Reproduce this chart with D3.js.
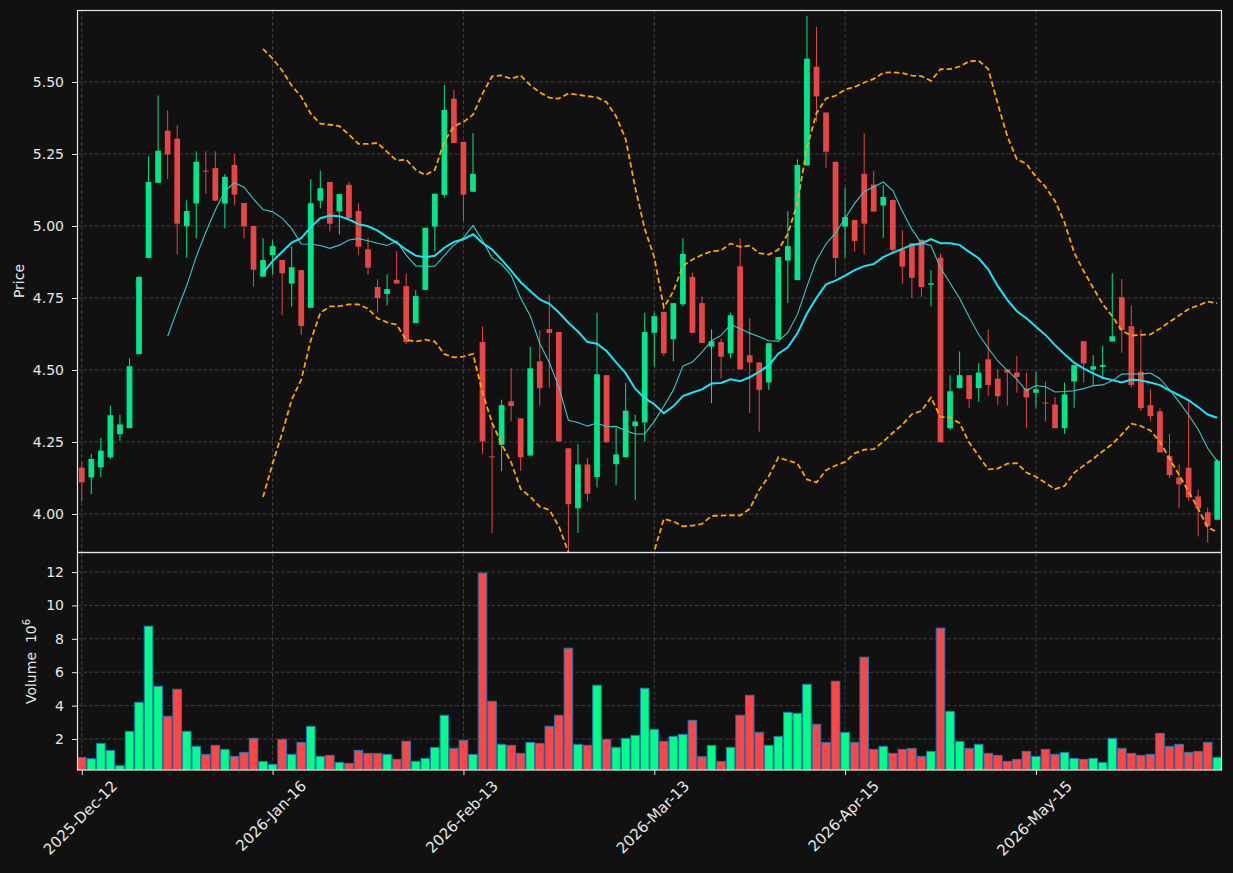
<!DOCTYPE html>
<html>
<head>
<meta charset="utf-8">
<script src="https://cdn.jsdelivr.net/npm/d3@7"></script>
<style>
  body { margin: 0; background: #111111; }
  text { font-family: "DejaVu Sans", sans-serif; }
</style>
</head>
<body>
<svg id="chart" width="1233" height="873"></svg>
<script>
// tick labels on the date axis (every 20th trading row)
const tickIdx = [0, 20, 40, 60, 80, 100]
const tickLabels = ['2025-Dec-12', '2026-Jan-16', '2026-Feb-13', '2026-Mar-13', '2026-Apr-15', '2026-May-15']

const opens = [4.161,4.127,4.162,4.197,4.277,4.298,4.555,4.889,5.150,5.331,
  5.303,4.999,5.078,5.192,5.201,5.078,5.212,5.080,5.000,4.824,
  4.899,4.882,4.800,4.847,4.716,5.088,5.153,5.050,5.143,5.052,
  4.919,4.788,4.764,4.813,4.791,4.663,4.778,4.998,5.108,5.442,
  5.292,5.119,4.597,4.200,4.240,4.391,4.332,4.203,4.530,4.642,
  4.632,4.228,4.020,4.172,4.128,4.482,4.173,4.197,4.305,4.318,
  4.629,4.702,4.607,4.728,4.823,4.732,4.581,4.597,4.558,4.860,
  4.551,4.526,4.457,4.606,4.880,4.812,5.210,5.553,5.394,5.223,
  4.998,5.021,5.181,5.144,5.071,5.090,4.917,4.940,4.952,4.796,
  4.890,4.298,4.437,4.482,4.437,4.537,4.470,4.502,4.491,4.436,
  4.421,4.387,4.380,4.298,4.460,4.600,4.501,4.511,4.599,4.753,
  4.652,4.494,4.378,4.356,4.201,4.126,4.161,4.061,4.006,3.980]
const highs = [4.182,4.208,4.264,4.376,4.345,4.540,4.826,5.242,5.453,5.402,
  5.350,5.089,5.259,5.259,5.259,5.180,5.250,5.080,5.000,4.957,
  4.950,4.882,4.929,4.847,5.163,5.192,5.153,5.111,5.153,5.079,
  4.959,4.815,4.832,4.913,4.835,4.777,4.994,5.112,5.490,5.472,
  5.292,5.322,4.651,4.322,4.397,4.506,4.332,4.581,4.638,4.760,
  4.632,4.228,4.242,4.194,4.699,4.482,4.300,4.455,4.345,4.699,
  4.699,4.702,4.732,4.958,4.838,4.755,4.641,4.609,4.699,4.958,
  4.680,4.526,4.593,4.892,5.052,5.231,5.730,5.691,5.394,5.223,
  5.132,5.021,5.322,5.192,5.141,5.090,4.986,4.940,4.952,4.847,
  4.904,4.482,4.564,4.482,4.524,4.641,4.502,4.502,4.548,4.491,
  4.494,4.460,4.405,4.457,4.517,4.600,4.551,4.584,4.835,4.816,
  4.724,4.641,4.433,4.367,4.278,4.172,4.391,4.085,4.022,4.191]
const lows = [4.044,4.068,4.128,4.191,4.254,4.298,4.555,4.889,5.150,5.163,
  4.901,4.890,4.957,5.111,5.088,4.992,5.072,4.957,4.790,4.824,
  4.832,4.690,4.720,4.621,4.716,5.061,4.981,4.971,5.028,4.901,
  4.832,4.699,4.724,4.800,4.590,4.663,4.778,4.913,5.098,5.288,
  5.017,5.119,4.208,3.934,4.149,4.322,4.149,4.200,4.376,4.439,
  4.252,3.871,3.934,4.044,4.092,4.249,4.101,4.197,4.049,4.252,
  4.512,4.548,4.530,4.721,4.629,4.594,4.385,4.470,4.540,4.502,
  4.351,4.286,4.431,4.606,4.732,4.812,5.210,5.362,5.200,4.824,
  4.890,4.911,4.901,5.050,4.959,4.901,4.800,4.750,4.754,4.721,
  4.249,4.291,4.437,4.369,4.390,4.411,4.379,4.376,4.421,4.300,
  4.369,4.321,4.298,4.278,4.369,4.457,4.449,4.470,4.599,4.560,
  4.439,4.358,4.321,4.214,4.125,4.022,4.046,3.922,3.901,3.980]
const closes = [4.110,4.191,4.220,4.343,4.311,4.513,4.823,5.153,5.261,5.248,
  5.008,5.052,5.223,5.189,5.088,5.171,5.109,4.999,4.848,4.882,
  4.930,4.836,4.857,4.653,5.079,5.131,5.008,5.111,5.028,4.928,
  4.855,4.750,4.781,4.800,4.597,4.757,4.994,5.112,5.403,5.288,
  5.109,5.181,4.252,4.197,4.378,4.375,4.197,4.506,4.437,4.629,
  4.252,4.034,4.172,4.070,4.485,4.249,4.207,4.359,4.321,4.632,
  4.687,4.558,4.732,4.903,4.629,4.594,4.600,4.546,4.690,4.502,
  4.526,4.431,4.593,4.892,4.930,5.212,5.581,5.450,5.258,4.889,
  5.031,4.948,5.008,5.050,5.101,4.917,4.859,4.820,4.788,4.801,
  4.249,4.426,4.482,4.399,4.491,4.448,4.409,4.491,4.476,4.405,
  4.433,4.385,4.298,4.415,4.517,4.523,4.513,4.517,4.617,4.639,
  4.448,4.368,4.340,4.214,4.135,4.103,4.058,4.020,3.958,4.185]
// volume in millions
const volumes = [0.90,0.82,1.74,1.32,0.40,2.46,4.20,8.76,5.16,3.36,
  4.98,2.46,1.56,1.08,1.62,1.38,0.96,1.20,2.04,0.66,
  0.48,1.98,1.08,1.80,2.76,0.96,1.02,0.60,0.54,1.32,
  1.14,1.14,1.08,0.78,1.86,0.66,0.84,1.50,3.42,1.44,
  1.92,1.08,11.94,4.26,1.68,1.62,1.14,1.80,1.74,2.76,
  3.42,7.44,1.68,1.62,5.22,1.98,1.50,2.04,2.22,5.04,
  2.58,1.86,2.16,2.28,3.12,0.94,1.62,0.66,1.50,3.42,
  4.62,2.40,1.62,2.16,3.60,3.54,5.28,2.88,1.80,5.46,
  2.40,1.80,6.90,1.38,1.56,1.14,1.38,1.44,0.96,1.26,
  8.64,3.66,1.86,1.44,1.68,1.14,1.02,0.66,0.78,1.26,
  0.96,1.38,1.08,1.20,0.84,0.78,0.84,0.60,2.04,1.44,
  1.14,1.02,1.08,2.34,1.56,1.68,1.20,1.26,1.80,0.90]

const priceTicks = [4.00, 4.25, 4.50, 4.75, 5.00, 5.25, 5.50]
const volTicks = [2, 4, 6, 8, 10, 12]

const upC = '#00e68a', downC = '#e84545'
const volUp = '#00ff88', volDown = '#ff4646'
const txtC = '#e8e8e8', gridC = '#3c3c3c'

// rolling helpers (moving averages + bollinger from closes)
function rolling(arr, n, fn) {
    return arr.map((d, i) => i < n - 1 ? null : fn(arr.slice(i - n + 1, i + 1)))
}
const ma10 = rolling(closes, 10, w => d3.mean(w))
const ma20 = rolling(closes, 20, w => d3.mean(w))
const sd20 = rolling(closes, 20, w => {
    const m = d3.mean(w)
    return Math.sqrt(d3.mean(w, v => (v - m) * (v - m)))
})
const bbUp = ma20.map((m, i) => m == null ? null : m + 2 * sd20[i])
const bbLo = ma20.map((m, i) => m == null ? null : m - 2 * sd20[i])

const L = 77, R = 1222, pTop = 10, pBot = 552, vTop = 553, vBot = 770
const n = closes.length
const x = d3.scaleLinear().domain([-0.5, n - 0.5]).range([L, R])
const yP = d3.scaleLinear().domain([3.868, 5.75]).range([pBot, pTop])
const yV = d3.scaleLinear().domain([0.144, 13.14]).range([vBot, vTop])
const step = x(1) - x(0)

const svg = d3.select('#chart')
svg.append('rect').attr('width', 1233).attr('height', 873).attr('fill', '#111111')

const defs = svg.append('defs')
defs.append('clipPath').attr('id', 'pclip')
    .append('rect').attr('x', L).attr('y', pTop).attr('width', R - L).attr('height', pBot - pTop)
defs.append('clipPath').attr('id', 'vclip')
    .append('rect').attr('x', L).attr('y', vTop).attr('width', R - L).attr('height', vBot - vTop)

// grid
const grid = svg.append('g').attr('stroke', gridC).attr('stroke-dasharray', '4,2').attr('stroke-width', 1)
priceTicks.forEach(t => grid.append('line').attr('x1', L).attr('x2', R).attr('y1', yP(t)).attr('y2', yP(t)))
volTicks.forEach(t => grid.append('line').attr('x1', L).attr('x2', R).attr('y1', yV(t)).attr('y2', yV(t)))
tickIdx.forEach(t => {
    grid.append('line').attr('x1', x(t)).attr('x2', x(t)).attr('y1', pTop).attr('y2', pBot)
    grid.append('line').attr('x1', x(t)).attr('x2', x(t)).attr('y1', vTop).attr('y2', vBot)
})

const idx = d3.range(n)

// candles
const cg = svg.append('g').attr('clip-path', 'url(#pclip)')
const candle = cg.selectAll('g.c').data(idx).enter().append('g')
candle.append('line')
    .attr('x1', i => x(i)).attr('x2', i => x(i))
    .attr('y1', i => yP(highs[i])).attr('y2', i => yP(lows[i]))
    .attr('stroke', i => closes[i] >= opens[i] ? upC : downC)
    .attr('stroke-width', 1)
candle.append('rect')
    .attr('x', i => x(i) - step * 0.3)
    .attr('width', step * 0.6)
    .attr('y', i => yP(Math.max(opens[i], closes[i])))
    .attr('height', i => Math.max(1, Math.abs(yP(opens[i]) - yP(closes[i]))))
    .attr('fill', i => closes[i] >= opens[i] ? upC : downC)

// overlays
function lineOf(arr) {
    return d3.line().defined(i => arr[i] != null).x(i => x(i)).y(i => yP(arr[i]))(idx)
}
cg.append('path').attr('d', lineOf(ma10)).attr('fill', 'none')
    .attr('stroke', '#3cc8c8').attr('stroke-width', 1.1)
cg.append('path').attr('d', lineOf(ma20)).attr('fill', 'none')
    .attr('stroke', '#19e3f5').attr('stroke-width', 2)
;[bbUp, bbLo].forEach(b => {
    cg.append('path').attr('d', lineOf(b)).attr('fill', 'none')
        .attr('stroke', '#ffa500').attr('stroke-width', 1.8).attr('stroke-dasharray', '5.5,3')
})

// volume
svg.append('g').attr('clip-path', 'url(#vclip)')
    .selectAll('rect').data(idx).enter().append('rect')
    .attr('x', i => x(i) - step * 0.45)
    .attr('width', step * 0.9)
    .attr('y', i => yV(volumes[i]))
    .attr('height', i => vBot - yV(volumes[i]) + 2)
    .attr('fill', i => closes[i] >= opens[i] ? volUp : volDown)
    .attr('stroke', '#1f77b4').attr('stroke-width', 1)

// frames
svg.append('rect').attr('x', L + 0.5).attr('y', pTop + 0.5).attr('width', R - L - 1).attr('height', pBot - pTop)
    .attr('fill', 'none').attr('stroke', txtC).attr('stroke-width', 1.2)
svg.append('rect').attr('x', L + 0.5).attr('y', pBot + 0.5).attr('width', R - L - 1).attr('height', vBot - pBot - 0.5)
    .attr('fill', 'none').attr('stroke', txtC).attr('stroke-width', 1.2)

// axes
function styleAxis(g) {
    g.select('.domain').remove()
    g.selectAll('line').attr('stroke', txtC)
    g.selectAll('text').attr('fill', txtC).style('font-size', '14px').style('font-family', '"DejaVu Sans", sans-serif')
}
svg.append('g').attr('transform', `translate(${L},0)`)
    .call(d3.axisLeft(yP).tickValues(priceTicks).tickFormat(d3.format('.2f')).tickSize(5).tickPadding(8))
    .call(styleAxis)
svg.append('g').attr('transform', `translate(${L},0)`)
    .call(d3.axisLeft(yV).tickValues(volTicks).tickFormat(d3.format('d')).tickSize(5).tickPadding(8))
    .call(styleAxis)
const xa = svg.append('g').attr('transform', `translate(0,${vBot})`)
    .call(d3.axisBottom(x).tickValues(tickIdx).tickFormat((d, i) => tickLabels[i]).tickSize(5))
    .call(styleAxis)
xa.selectAll('text').style('font-size', '15px').each(function () {
    const t = d3.select(this)
    const w = this.getComputedTextLength()
    const off = 9 + (w + 12) / (2 * Math.SQRT2)
    t.attr('y', 0).attr('dy', '0.35em').attr('text-anchor', 'middle')
        .attr('transform', `translate(-2,${off}) rotate(-45)`)
})

// axis labels
svg.append('text').attr('transform', `translate(24,${(pTop + pBot) / 2}) rotate(-90)`)
    .attr('text-anchor', 'middle').attr('fill', txtC).style('font-size', '14px').text('Price')
const vl = svg.append('text').attr('transform', `translate(36,${(vTop + vBot) / 2}) rotate(-90)`)
    .attr('text-anchor', 'middle').attr('fill', txtC).style('font-size', '14px').style('white-space', 'pre')
vl.append('tspan').text('Volume  10')
vl.append('tspan').attr('dy', -6).style('font-size', '10px').text('6')
</script>
</body>
</html>
